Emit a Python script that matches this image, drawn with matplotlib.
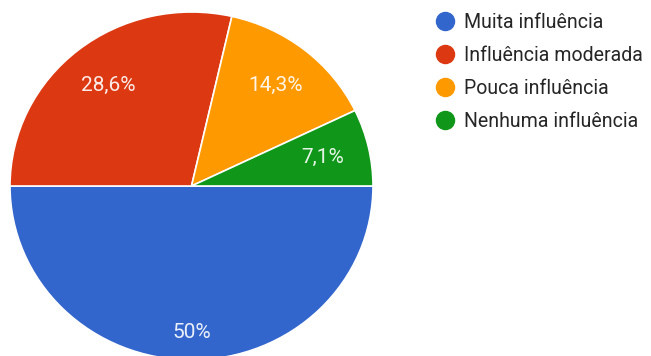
import matplotlib.pyplot as plt
from matplotlib.lines import Line2D

plt.rcParams['font.family'] = ['Roboto', 'DejaVu Sans']

categories = ['Muita influência', 'Influência moderada', 'Pouca influência', 'Nenhuma influência']
responses = [7, 4, 2, 1]
colors = ['#3366CC', '#DC3912', '#FF9900', '#109618']

W, H = 651, 356
fig = plt.figure(figsize=(W / 100, H / 100), dpi=100)

# pie area in pixels: left 10, right 373, top 12, bottom 360 (runs off the bottom)
ax = fig.add_axes([10 / W, (H - 360) / H, 363 / W, 348 / H])
wedges, texts, autotexts = ax.pie(
    responses, colors=colors, startangle=0, counterclock=False,
    autopct=lambda p: ('%.1f%%' % p).replace('.', ',').replace(',0%', '%'),
    pctdistance=0.74, radius=1,
    wedgeprops=dict(edgecolor='white', linewidth=1.2),
    textprops=dict(color='white', fontsize=15, alpha=0.9))
ax.set_aspect('auto')
ax.set_xlim(-1, 1)
ax.set_ylim(-1, 1)

# the half-pie label sits lower down
autotexts[0].set_position((0, -0.84))

handles = [Line2D([], [], marker='o', linestyle='', markersize=13,
                  markerfacecolor=c, markeredgecolor=c) for c in colors]
leg = fig.legend(handles, categories, loc='upper left',
                 bbox_to_anchor=(426 / W, 1 - 5 / H), frameon=False,
                 fontsize=14.05, labelspacing=0.72, handletextpad=0.45,
                 handlelength=1.1, borderaxespad=0)
for t in leg.get_texts():
    t.set_color('#262626')

fig.savefig('out.png', dpi=100)
